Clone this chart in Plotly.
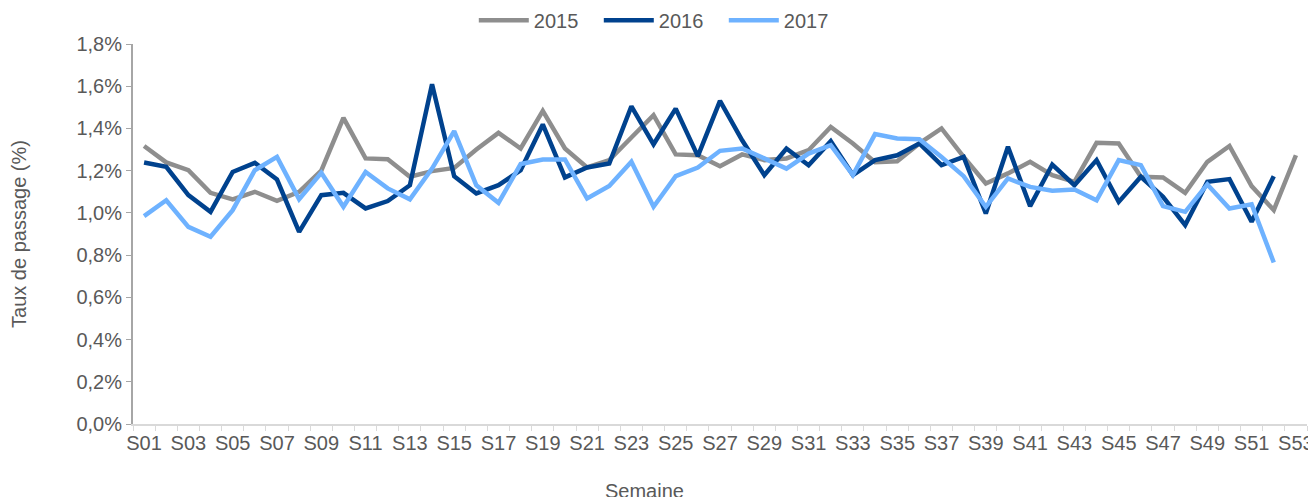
import plotly.graph_objs as go

# semaines S01..S53
weeks = ["S%02d" % i for i in range(1, 54)]
tick_text = [w if i % 2 == 0 else "" for i, w in enumerate(weeks)]

# taux de passage (%) par semaine
rate_2015 = [1.317, 1.239, 1.202, 1.095, 1.064, 1.100, 1.057, 1.100, 1.200, 1.450,
             1.258, 1.254, 1.171, 1.198, 1.213, 1.300, 1.379, 1.305, 1.483, 1.305,
             1.215, 1.250, 1.357, 1.463, 1.277, 1.273, 1.221, 1.277, 1.250, 1.258,
             1.297, 1.407, 1.329, 1.240, 1.245, 1.329, 1.400, 1.265, 1.139, 1.187,
             1.242, 1.179, 1.147, 1.332, 1.329, 1.171, 1.168, 1.095, 1.242, 1.317,
             1.127, 1.013, 1.273]
rate_2016 = [1.239, 1.218, 1.084, 1.005, 1.194, 1.237, 1.158, 0.910, 1.084, 1.095,
             1.021, 1.056, 1.131, 1.609, 1.174, 1.092, 1.131, 1.202, 1.419, 1.168,
             1.215, 1.234, 1.505, 1.325, 1.494, 1.269, 1.531, 1.344, 1.179, 1.305,
             1.226, 1.340, 1.179, 1.250, 1.273, 1.329, 1.226, 1.265, 0.997, 1.313,
             1.032, 1.229, 1.131, 1.250, 1.052, 1.171, 1.076, 0.942, 1.147, 1.160,
             0.958, 1.174, None]
rate_2017 = [0.985, 1.060, 0.934, 0.887, 1.013, 1.202, 1.265, 1.065, 1.190, 1.029,
             1.194, 1.116, 1.064, 1.210, 1.387, 1.131, 1.048, 1.231, 1.253, 1.253,
             1.068, 1.127, 1.242, 1.029, 1.174, 1.215, 1.294, 1.305, 1.258, 1.210,
             1.281, 1.321, 1.179, 1.373, 1.352, 1.349, 1.265, 1.174, 1.029, 1.163,
             1.123, 1.105, 1.111, 1.060, 1.250, 1.226, 1.032, 1.005, 1.135, 1.021,
             1.041, 0.765, None]

series = [("2015", rate_2015, "#8E8E8E"),
          ("2016", rate_2016, "#00428E"),
          ("2017", rate_2017, "#6EB2FF")]

txt = "#595959"
fnt = "Liberation Sans, Arial, sans-serif"

fig = go.Figure()
for name, vals, col in series:
    fig.add_trace(go.Scatter(x=weeks, y=vals, name=name, mode="lines",
                             line=dict(color=col, width=4.5)))

# page body has an 8px margin, so the figure is a bit smaller than the window
fig.update_layout(
    width=1308, height=489,
    margin=dict(l=125, r=9, t=36, b=73),
    plot_bgcolor="white", paper_bgcolor="white",
    separators=", ",
    font=dict(family=fnt, size=20, color=txt),
    legend=dict(orientation="h", x=0.45, xanchor="center",
                yref="container", y=0.975, yanchor="middle",
                font=dict(size=20, color=txt), itemwidth=50, entrywidth=60),
    xaxis=dict(type="category", categoryorder="array", categoryarray=weeks,
               range=[-0.5, 52.5], tickvals=weeks, ticktext=tick_text,
               tickson="boundaries", ticks="outside", ticklen=5, tickangle=0,
               tickcolor="#D9D9D9", showline=True, linecolor="#D9D9D9",
               linewidth=2, showgrid=False, automargin=False,
               tickfont=dict(size=20, color=txt)),
    yaxis=dict(range=[0, 1.8], dtick=0.2, tickformat=".1f", ticksuffix="%",
               ticks="outside", ticklen=5, tickcolor="#A6A6A6",
               showline=True, linecolor="#A6A6A6", linewidth=2, showgrid=False,
               zeroline=False, automargin=False, tickfont=dict(size=20, color=txt),
               title=dict(text="Taux de passage (%)", standoff=44,
                          font=dict(size=20, color=txt))),
    annotations=[dict(text="Semaine", xref="paper", yref="paper", x=0.436, y=0,
                      yshift=-54, xanchor="center", yanchor="top", showarrow=False,
                      font=dict(size=20, color=txt))],
)

fig.write_html("out.html")
